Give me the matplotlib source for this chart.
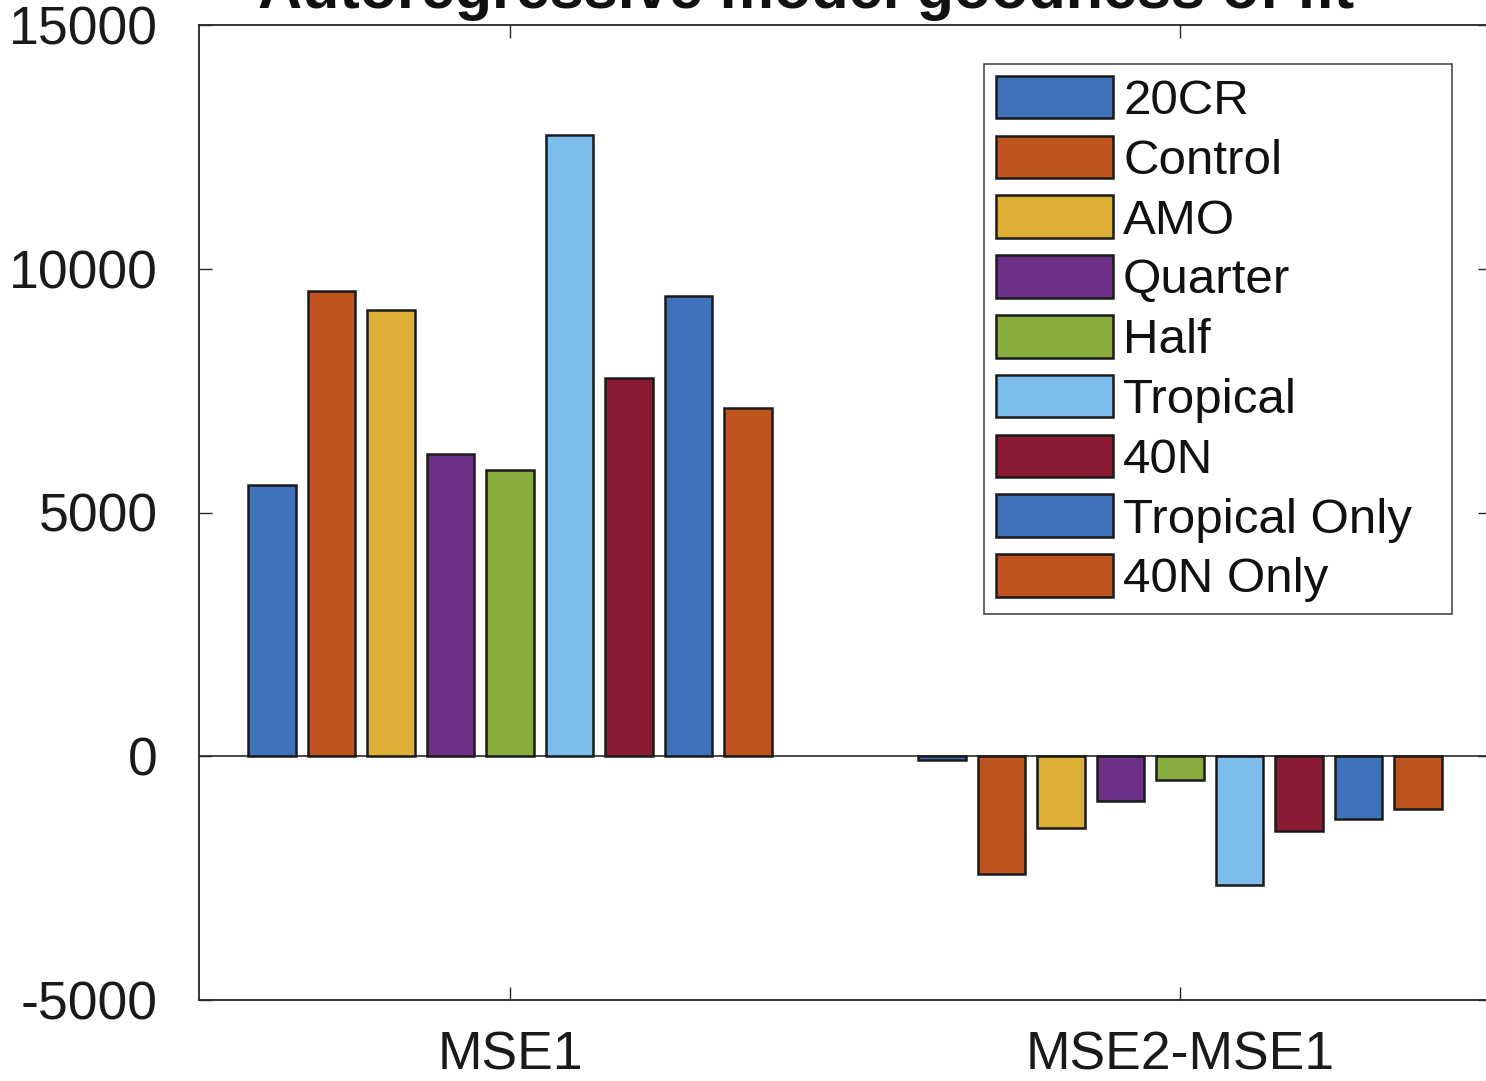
import matplotlib
matplotlib.use("Agg")
import matplotlib.pyplot as plt
import numpy as np

plt.rcParams['font.family'] = ['Liberation Sans', 'DejaVu Sans']

# Data
groups = ["MSE1", "MSE2-MSE1"]
series = ["20CR", "Control", "AMO", "Quarter", "Half", "Tropical", "40N",
          "Tropical Only", "40N Only"]
mse1 = [5570, 9540, 9150, 6200, 5870, 12740, 7750, 9440, 7140]
mse2_minus_mse1 = [-70, -2420, -1480, -920, -480, -2650, -1530, -1290, -1080]
yticks = [-5000, 0, 5000, 10000, 15000]
title = "Autoregressive model goodness of fit"

colors = ["#3F72BA", "#C0541F", "#DEAF35", "#6E318A", "#88AD3E",
          "#7CBDEB", "#8B1A33", "#3F72BA", "#C0541F"]

W, H = 1486, 1081
fig = plt.figure(figsize=(W / 100, H / 100), dpi=100)

# axes box in pixels: left 199, top 25, bottom 1000, right slightly past the edge
left, right, top, bottom = 199, 1491, 25, 1000
ax = fig.add_axes([left / W, 1 - bottom / H, (right - left) / W, (bottom - top) / H])

ink = "#262626"
n = len(series)
group_x = np.arange(1, len(groups) + 1)
values = np.array([mse1, mse2_minus_mse1])  # shape (groups, series)
step = 0.8 / n
width = 0.8 * step

ax.axhline(0, color="#4a4a4a", lw=1.4, zorder=1)
for i, (name, c) in enumerate(zip(series, colors)):
    ax.bar(group_x + (i - (n - 1) / 2) * step, values[:, i], width=width,
           color=c, edgecolor="#1a1a1a", linewidth=1.8, label=name, zorder=2)

ax.set_xlim(0.5358, 2.4642)
ax.set_ylim(-5000, 15000)
ax.set_xticks(group_x)
ax.set_xticklabels(groups)
ax.set_yticks(yticks)
ax.set_yticklabels([str(t) for t in yticks])

for s in ax.spines.values():
    s.set_color(ink)
    s.set_linewidth(1.3)

ax.tick_params(axis="both", direction="in", length=9.5, width=1.0, color=ink,
               labelsize=38.5, labelcolor="#1a1a1a", top=True, right=True)
ax.tick_params(axis="y", pad=29.5)
ax.tick_params(axis="x", pad=22)

# legend box in figure fraction
lx0, lx1, ly0, ly1 = 984, 1452, 614, 64
leg = ax.legend(loc="upper left",
                bbox_to_anchor=(lx0 / W, 1 - ly0 / H, (lx1 - lx0) / W, (ly0 - ly1) / H),
                bbox_transform=fig.transFigure, mode="expand",
                borderaxespad=0, borderpad=0.24, fontsize=35.5,
                handlelength=2.38, handleheight=0.95, handletextpad=0.2,
                labelspacing=0.235, fancybox=False, framealpha=1)
leg.get_frame().set_edgecolor("#3a3a3a")
leg.get_frame().set_linewidth(1.1)
for t in leg.get_texts():
    t.set_color("#111111")
for p in leg.get_patches():
    p.set_linewidth(1.8)

fig.text(806 / W, 1 - 8 / H, title, ha="center", va="baseline",
         fontsize=44, fontweight="bold", color="#111111")

fig.savefig("out.png", dpi=100)
